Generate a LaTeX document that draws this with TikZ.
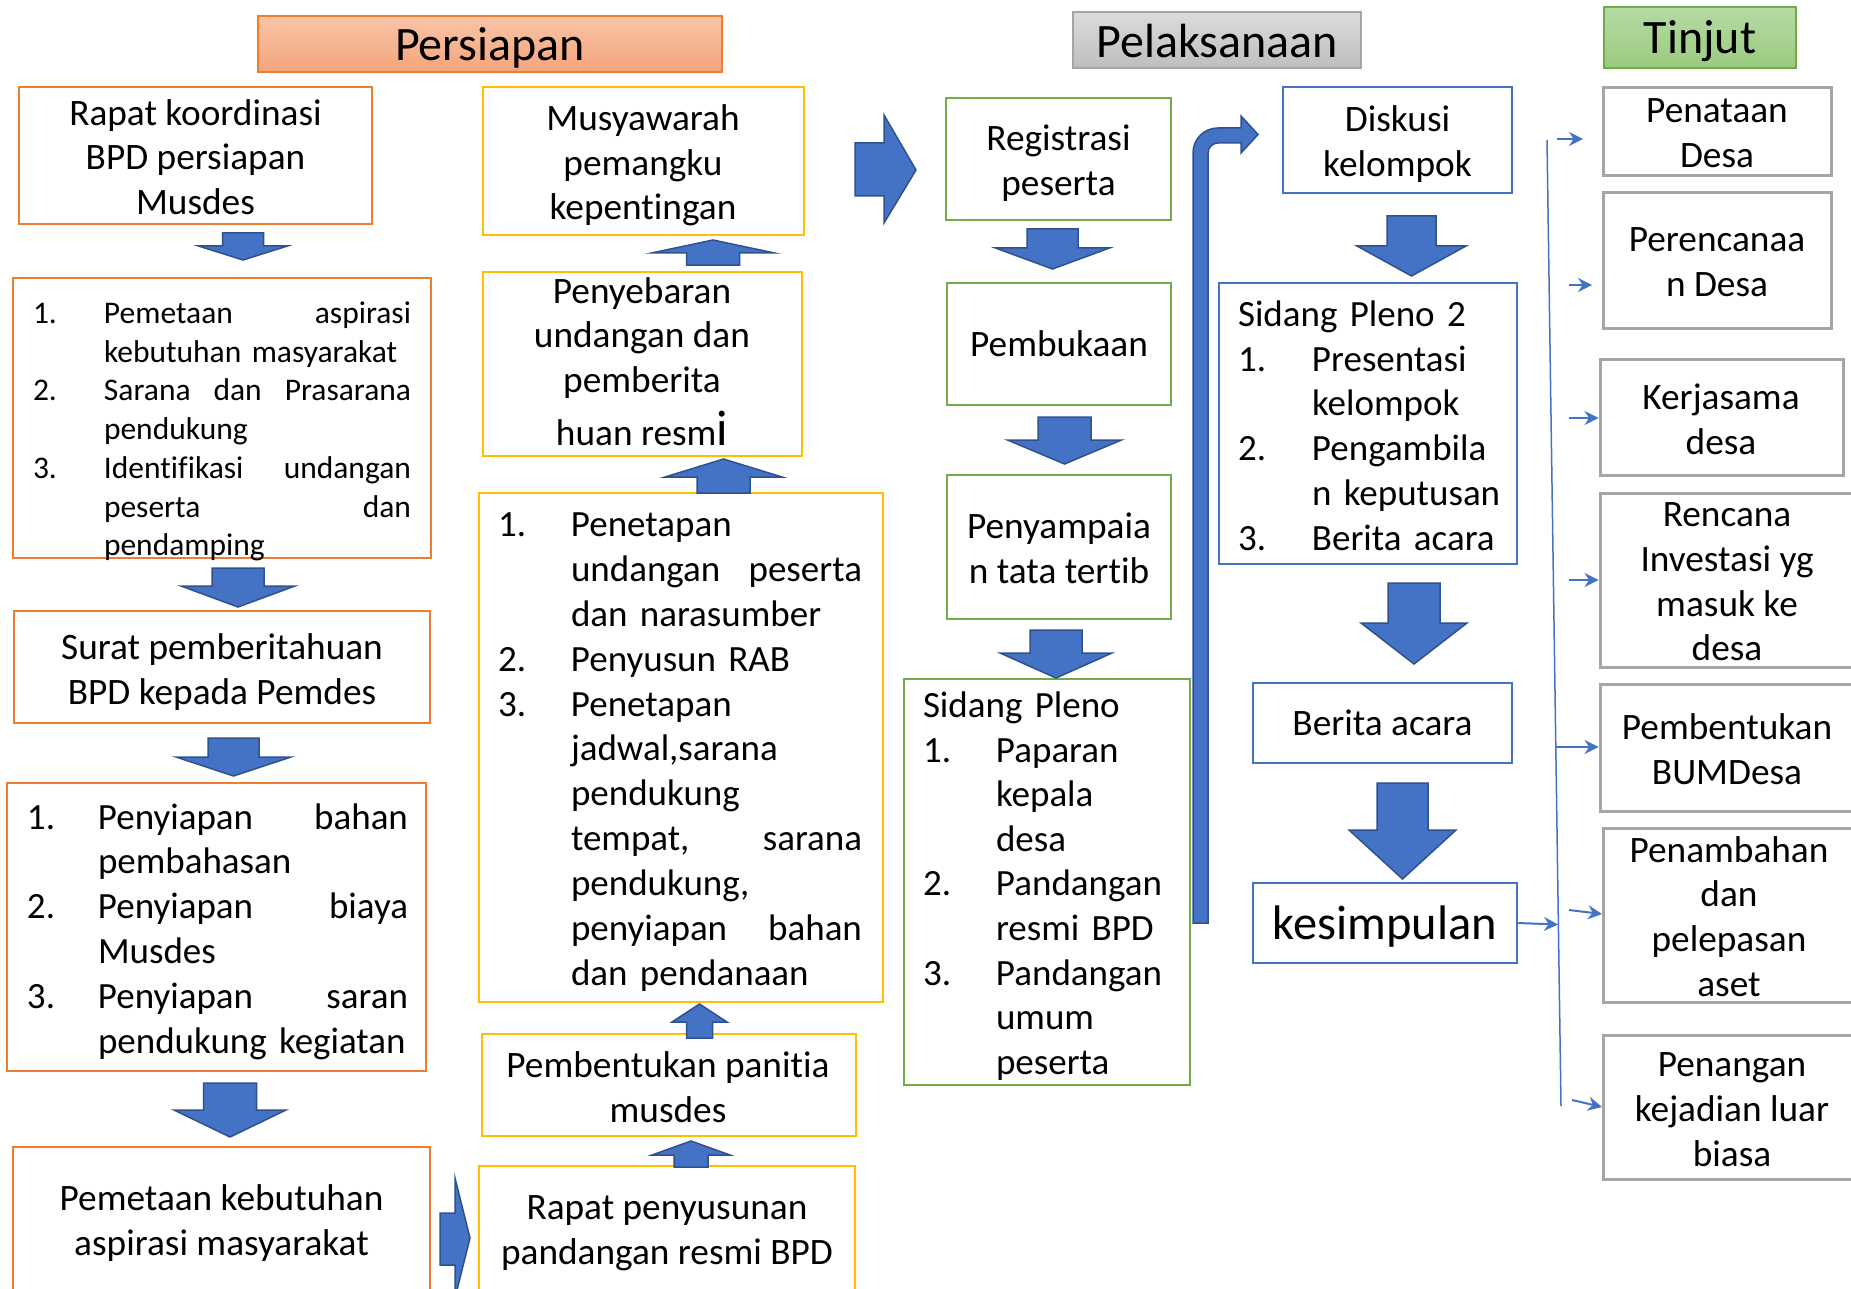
\documentclass[tikz,border=0pt]{standalone}
\usepackage{fontspec}
\setmainfont{Carlito}[Ligatures=NoCommon]
\usetikzlibrary{arrows.meta}
\definecolor{orB}{HTML}{ED7D31}
\definecolor{yeB}{HTML}{FFC000}
\definecolor{grB}{HTML}{70AD47}
\definecolor{blB}{HTML}{4472C4}
\definecolor{gyB}{HTML}{A5A5A5}
\definecolor{arF}{HTML}{4472C4}
\definecolor{arD}{HTML}{2F528F}
\definecolor{hAt}{HTML}{F8C4A7}
\definecolor{hAb}{HTML}{F4A47C}
\definecolor{hBt}{HTML}{DBDBDB}
\definecolor{hBb}{HTML}{BEBEBE}
\definecolor{hCt}{HTML}{B6DAA4}
\definecolor{hCb}{HTML}{9ACB7F}
\newcommand\myfs[2]{\fontsize{#1}{#2}\selectfont}
\newcommand\myvA[6]{\filldraw[blk] ({#1-#5},#2) -- ({#1+#5},#2) -- ({#1+#5},#3) -- ({#1+#6},#3) -- (#1,#4) -- ({#1-#6},#3) -- ({#1-#5},#3) -- cycle;}
\newcommand\mybx[6]{\node[#1, minimum width={#4-#2}, minimum height={#5-#3}] (#6) at ({(#2+#4)/2},{(#3+#5)/2}) {};}
\tikzset{
  blk/.style={fill=arF, draw=arD, line width=1.5pt, line join=miter},
  ob/.style={draw=orB, line width=2.5pt, inner sep=0pt},
  yb/.style={draw=yeB, line width=2.5pt, inner sep=0pt},
  gb/.style={draw=grB, line width=2.5pt, inner sep=0pt},
  bb/.style={draw=blB, line width=2.5pt, inner sep=0pt},
  gyb/.style={draw=gyB, line width=3pt, inner sep=0pt},
  t36/.style={font=\myfs{37.3}{44.7}, align=center, inner sep=0pt, yshift=-2.5pt},
  tl/.style={align=left, inner sep=0pt, yshift=-2.5pt},
  hdr/.style={line width=2pt, inner sep=0pt},
  htx/.style={inner sep=0pt, font=\myfs{48}{56}},
  tarr/.style={draw=blB, line width=2pt, -{Stealth[length=14pt,width=14pt]}},
}
\begin{document}
\begin{tikzpicture}[x=1pt,y=-1pt]
\useasboundingbox[fill=white] (0,0) rectangle (1851,1289);

% headers
\node[hdr, draw=orB, top color=hAt, bottom color=hAb, minimum width=464, minimum height=56] (H1) at (490,44) {};
\node[htx] (H1t) at (490,48) {Persiapan};
\node[hdr, draw=gyB, top color=hBt, bottom color=hBb, minimum width=288, minimum height=56] (H2) at (1217,40) {};
\node[htx] (H2t) at (1217,41) {Pelaksanaan};
\node[hdr, draw=grB, top color=hCt, bottom color=hCb, minimum width=192, minimum height=61] (H3) at (1700,37.5) {};
\node[htx] (H3t) at (1700,41) {Tinjut};

% column 1
\mybx{ob}{19}{87}{372}{224}{B1}
\node[t36] (B1t) at (195.5,154.5) {Rapat koordinasi\\BPD persiapan\\Musdes};
\mybx{ob}{13}{278}{431}{558}{B2}
\node[tl, text width=378, font=\myfs{31.5}{38.7}] (B2t) at (222,429) {%
\makebox[71pt][l]{1.}Pemetaan\hfill aspirasi\\
\hspace*{71pt}kebutuhan masyarakat\\
\makebox[71pt][l]{2.}Sarana\hfill dan\hfill Prasarana\\
\hspace*{71pt}pendukung\\
\makebox[71pt][l]{3.}Identifikasi\hfill undangan\\
\hspace*{71pt}peserta\hfill dan\\
\hspace*{71pt}pendamping};
\mybx{ob}{14}{611}{430}{723}{B3}
\node[t36] (B3t) at (222,669.5) {Surat pemberitahuan\\BPD kepada Pemdes};
\mybx{ob}{7}{783}{426}{1071}{B4}
\node[tl, text width=381, font=\myfs{37}{44.8}] (B4t) at (217.5,929) {%
\makebox[71pt][l]{1.}Penyiapan\hfill bahan\\
\hspace*{71pt}pembahasan\\
\makebox[71pt][l]{2.}Penyiapan\hfill biaya\\
\hspace*{71pt}Musdes\\
\makebox[71pt][l]{3.}Penyiapan\hfill saran\\
\hspace*{71pt}pendukung kegiatan};
\mybx{ob}{13}{1147}{430}{1295}{B5}
\node[t36] (B5t) at (221.5,1220.5) {Pemetaan kebutuhan\\aspirasi masyarakat};

\myvA{243}{233}{246}{260}{20.5}{44.5}
\myvA{238}{568}{586}{607}{26}{57}
\myvA{233.5}{738}{757}{776}{25.5}{57.5}
\myvA{230}{1083}{1110}{1137}{26.5}{56}
\filldraw[blk] (440,1213) -- (455,1213) -- (455,1178) -- (470,1238) -- (455,1298) -- (455,1265) -- (440,1265) -- cycle;

% column 2
\mybx{yb}{483}{87}{804}{235}{C1}
\node[t36] (C1t) at (643,163) {Musyawarah\\pemangku\\kepentingan};
\mybx{yb}{483}{272}{802}{456}{C2}
\node[t36] (C2t) at (642,359) {Penyebaran\\undangan dan\\pemberita\\[8pt]huan resm{\myfs{50}{50}i}};
\mybx{yb}{479}{493}{883}{1002}{C3}
\node[tl, text width=364, font=\myfs{37}{44.9}] (C3t) at (680,749.5) {%
\makebox[73pt][l]{1.}Penetapan\\
\hspace*{73pt}undangan\hfill peserta\\
\hspace*{73pt}dan narasumber\\
\makebox[73pt][l]{2.}Penyusun RAB\\
\makebox[73pt][l]{3.}Penetapan\\
\hspace*{73pt}jadwal,sarana\\
\hspace*{73pt}pendukung\\
\hspace*{73pt}tempat,\hfill sarana\\
\hspace*{73pt}pendukung,\\
\hspace*{73pt}penyiapan\hfill bahan\\
\hspace*{73pt}dan pendanaan};
\mybx{yb}{482}{1034}{856}{1136}{C4}
\node[t36] (C4t) at (668,1084.5) {Pembentukan panitia\\musdes};
\mybx{yb}{479}{1166}{855}{1295}{C5}
\node[t36] (C5t) at (667,1231) {Rapat penyusunan\\pandangan resmi BPD};

\myvA{713}{265}{253}{240}{26.5}{61.5}
\myvA{723.5}{493}{477}{459}{26.5}{58.5}
\myvA{699.5}{1038}{1022}{1004}{13}{27.5}
\myvA{691}{1167}{1155}{1141}{17}{39}
\filldraw[blk] (855,143) -- (884,143) -- (884,115) -- (916,170) -- (884,223) -- (884,196) -- (855,196) -- cycle;

% column 3
\mybx{gb}{946}{98}{1171}{220}{D1}
\node[t36] (D1t) at (1058.5,160.5) {Registrasi\\peserta};
\mybx{gb}{947}{283}{1171}{405}{D2}
\node[t36] (D2t) at (1059,341.5) {Pembukaan};
\mybx{gb}{947}{475}{1171}{619}{D3}
\node[t36] (D3t) at (1059,546) {Penyampaia\\n tata tertib};
\mybx{gb}{904}{679}{1190}{1085}{D4}
\node[tl, text width=260, font=\myfs{37}{44.6}] (D4t) at (1053,883.5) {%
Sidang Pleno\\
\makebox[73pt][l]{1.}Paparan\\
\hspace*{73pt}kepala\\
\hspace*{73pt}desa\\
\makebox[73pt][l]{2.}Pandangan\\
\hspace*{73pt}resmi BPD\\
\makebox[73pt][l]{3.}Pandangan\\
\hspace*{73pt}umum\\
\hspace*{73pt}peserta};

\myvA{1052.5}{229}{248}{269}{25.5}{57}
\myvA{1064.5}{417}{440}{464}{26.5}{57}
\myvA{1056}{630}{653}{678}{26}{56}

% bent arrow
\filldraw[blk] (1193,923) -- (1193,153) .. controls (1193,139) and (1204,128) .. (1218,128) -- (1241,128) -- (1241,116) -- (1258,134.5) -- (1241,153) -- (1241,143) -- (1218,143) .. controls (1212.5,143) and (1208,147.5) .. (1208,153) -- (1208,923) -- cycle;

% column 4
\mybx{bb}{1283}{87}{1512}{193}{E1}
\node[t36] (E1t) at (1397.5,141.5) {Diskusi\\kelompok};
\mybx{bb}{1219}{283}{1517}{564}{E2}
\node[tl, text width=278, font=\myfs{37}{44.8}] (E2t) at (1377,423) {%
Sidang Pleno 2\\
\makebox[74pt][l]{1.}Presentasi\\
\hspace*{74pt}kelompok\\
\makebox[74pt][l]{2.}Pengambila\\
\hspace*{74pt}n keputusan\\
\makebox[74pt][l]{3.}Berita acara};
\mybx{bb}{1253}{683}{1512}{763}{E3}
\node[t36] (E3t) at (1382.5,720.5) {Berita acara};
\mybx{bb}{1253}{883}{1517}{963}{E4}
\node[t36, font=\myfs{48.5}{56}] (E4t) at (1385,924.5) {kesimpulan};

\myvA{1411.5}{216}{246}{276}{24.5}{54.5}
\myvA{1414}{583}{623}{664}{26}{53}
\myvA{1402.5}{783}{830}{879}{25.5}{53.5}

% column 5
\mybx{gyb}{1603}{88}{1831}{176}{F1}
\node[t36] (F1t) at (1717,131) {Penataan\\Desa};
\mybx{gyb}{1603}{193}{1831}{328}{F2}
\node[t36] (F2t) at (1717,260) {Perencanaa\\n Desa};
\mybx{gyb}{1600}{359}{1843}{475}{F3}
\node[t36] (F3t) at (1721,416.5) {Kerjasama\\desa};
\mybx{gyb}{1600}{493}{1858}{667}{F4}
\node[t36] (F4t) at (1727,579.5) {Rencana\\Investasi yg\\masuk ke\\desa};
\mybx{gyb}{1600}{684}{1858}{811}{F5}
\node[t36] (F5t) at (1727,747) {Pembentukan\\BUMDesa};
\mybx{gyb}{1603}{828}{1858}{1002}{F6}
\node[t36] (F6t) at (1729,914) {Penambahan\\dan\\pelepasan\\aset};
\mybx{gyb}{1603}{1035}{1858}{1179}{F7}
\node[t36] (F7t) at (1732,1107) {Penangan\\kejadian luar\\biasa};

% thin connectors
\coordinate (vtop) at (1547,140);
\coordinate (vbot) at (1561,1106);
\draw[draw=blB, line width=1.5pt] (vtop) -- (vbot);
\coordinate (k1) at (1558,924.5);
\draw[tarr] (E4.east) -- (k1);
\coordinate (s1) at (1557,139);  \coordinate (e1) at (1583,139);
\coordinate (s2) at (1569,285);  \coordinate (e2) at (1592,285);
\coordinate (s3) at (1569,418);  \coordinate (e3) at (F3.west |- s3);
\coordinate (s4) at (1569,580);  \coordinate (e4) at (F4.west |- s4);
\coordinate (s5) at (1556,747);  \coordinate (e5) at (F5.west |- s5);
\coordinate (s6) at (1569,910);  \coordinate (e6) at (1602,914);
\coordinate (s7) at (1572,1100); \coordinate (e7) at (1602,1107);
\foreach \i in {1,...,7} {\draw[tarr] (s\i) -- (e\i);}
\end{tikzpicture}
\end{document}
